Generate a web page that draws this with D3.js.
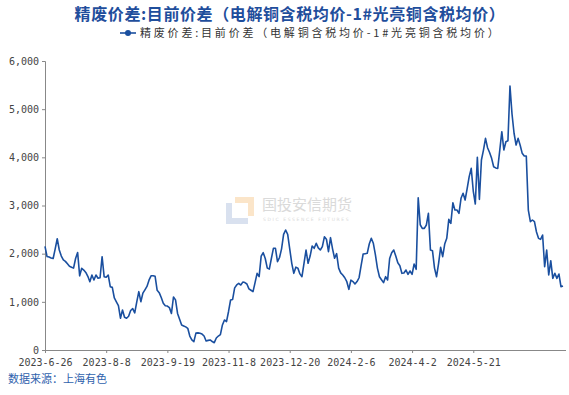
<!DOCTYPE html>
<html lang="zh">
<head>
<meta charset="UTF-8">
<title>精废价差</title>
<script src="https://d3js.org/d3.v7.min.js"></script>
<style>
    body { margin: 0; background: #fff; }
    svg { display: block; }
</style>
</head>
<body>
<div id="chart"></div>
<script>
// series: 精废价差（元/吨），按交易日排列
const spread = [
    2150, 1940, 1930, 1910, 1900, 2100, 2310, 2076, 1950, 1870,
    1840, 1790, 1740, 1720, 1700, 1900, 2025, 1540, 1696, 1660,
    1610, 1530, 1418, 1557, 1453, 1557, 1490, 1500, 1937, 1522,
    1509, 1557, 1314, 1300, 1080, 1000, 920, 660, 830, 680,
    660, 700, 820, 860, 770, 1000, 1211, 1003, 1180, 1250,
    1320, 1450, 1540, 1540, 1530, 1240, 1190, 1090, 970, 920,
    913, 880, 760, 1100, 1040, 760, 640, 520, 500, 480,
    450, 290, 210, 173, 350, 355, 346, 330, 290, 187,
    200, 208, 175, 152, 250, 290, 320, 520, 623, 590,
    800, 1038, 1050, 1290, 1350, 1384, 1349, 1410, 1400, 1370,
    1270, 1240, 1211, 1400, 1592, 1522, 1950, 2020, 1900, 1700,
    1680, 1900, 2111, 2111, 1833, 1920, 2100, 2400, 2491, 2400,
    2100, 1800, 1592, 1720, 1700, 1580, 1522, 1800, 2076, 1800,
    1950, 2159, 2111, 2215, 2120, 2076, 2145, 2350, 2300, 2041,
    2332, 2100, 1904, 2000, 1700, 1600, 1557, 1500, 1418, 1260,
    1450, 1420, 1370, 1420, 1500, 1750, 1993, 2000, 2007, 2200,
    2318, 2215, 1980, 1700, 1522, 1460, 1398, 1522, 1453, 1900,
    2020, 2076, 1950, 1810, 1750, 1592, 1600, 1661, 1571, 1640,
    1571, 1785, 1675, 3162, 2600, 2526, 2526, 2595, 2837, 2076,
    2062, 1700, 1522, 1800, 2131, 1937, 2200, 2318, 2713, 2630,
    3058, 2906, 2906, 2837, 3149, 3253, 3114, 3350, 3600, 3771,
    3300, 3031, 4000, 3128, 3944, 4150, 4394, 4200, 4100, 3979,
    3805, 3780, 3771, 4150, 4532, 4152, 4324, 4345, 5480, 4900,
    4500, 4256, 4394, 4250, 4083, 4027, 4027, 2906, 2664, 2699,
    2664, 2450, 2318, 2297, 2387, 1729, 2076, 1557, 1854, 1488,
    1592, 1488, 1578, 1314, 1329
];

// x-axis labels, one every 30 trading days starting at the first point
const tickLabels = ["2023-6-26", "2023-8-8", "2023-9-19", "2023-11-8",
                    "2023-12-20", "2024-2-6", "2024-4-2", "2024-5-21"];
const tickStep = 30;
const yTicks = [0, 1000, 2000, 3000, 4000, 5000, 6000];

const titleText = "精废价差:目前价差（电解铜含税均价-1#光亮铜含税均价）";
const seriesName = "精废价差:目前价差（电解铜含税均价-1#光亮铜含税均价）";
const sourceText = "数据来源：上海有色";

const width = 569, height = 395;
const margin = { top: 61, right: 3, bottom: 45, left: 45 };
const blue = "#1a4f9f";

const svg = d3.select("#chart").append("svg")
    .attr("width", width)
    .attr("height", height);

const x = d3.scaleLinear()
    .domain([0, spread.length - 1])
    .range([margin.left, 563]);

const y = d3.scaleLinear()
    .domain([0, 6000])
    .range([height - margin.bottom, margin.top]);

// watermark
const wm = svg.append("g").attr("opacity", 0.9);
wm.append("path")
    .attr("d", "M226,203 H232 V218 H248 V224 H226 Z")
    .attr("fill", "#d5deee");
wm.append("path")
    .attr("d", "M235,197 H254 V216 H248 V203 H235 Z")
    .attr("fill", "#fbe3c4");
wm.append("text")
    .attr("x", 262).attr("y", 210)
    .attr("font-family", "Noto Sans CJK SC")
    .attr("font-size", 15)
    .attr("fill", "#d6d6d6")
    .text("国投安信期货");
wm.append("text")
    .attr("x", 263).attr("y", 221)
    .attr("font-family", "DejaVu Sans")
    .attr("font-size", 4.5)
    .attr("letter-spacing", 1.6)
    .attr("fill", "#d6d6d6")
    .text("SDIC ESSENCE FUTURES");

// y axis
const yAxis = svg.append("g")
    .attr("transform", `translate(${margin.left},0)`)
    .call(d3.axisLeft(y).tickValues(yTicks).tickSize(3).tickFormat(d3.format(",")));
yAxis.select(".domain").attr("stroke", "#888");
yAxis.selectAll(".tick line").attr("stroke", "#888");
yAxis.selectAll("text")
    .attr("font-family", "DejaVu Sans Mono")
    .attr("font-size", 10)
    .attr("fill", "#444")
    .attr("x", -6);

// x axis
const xAxis = svg.append("g")
    .attr("transform", `translate(0,${height - margin.bottom})`)
    .call(d3.axisBottom(x)
        .tickValues(tickLabels.map((d, i) => i * tickStep))
        .tickSize(3)
        .tickFormat((d, i) => tickLabels[i]));
xAxis.select(".domain").attr("d", `M${margin.left},0.5H566`).attr("stroke", "#888");
xAxis.selectAll(".tick line").attr("stroke", "#888");
xAxis.selectAll("text")
    .attr("font-family", "DejaVu Sans Mono")
    .attr("font-size", 10)
    .attr("fill", "#444")
    .attr("y", 9);

// series line
const line = d3.line()
    .x((d, i) => x(i))
    .y(d => y(d));

svg.append("path")
    .datum(spread)
    .attr("fill", "none")
    .attr("stroke", blue)
    .attr("stroke-width", 1.6)
    .attr("stroke-linejoin", "round")
    .attr("d", line);

// title
svg.append("text")
    .attr("x", 290).attr("y", 20)
    .attr("text-anchor", "middle")
    .attr("font-family", "Noto Sans CJK SC")
    .attr("font-weight", "bold")
    .attr("font-size", 16)
    .attr("letter-spacing", 0.6)
    .attr("fill", "#1f4e9c")
    .text(titleText);

// legend
const lg = svg.append("g").attr("transform", "translate(120,33)");
lg.append("line")
    .attr("x1", 0).attr("x2", 16)
    .attr("stroke", blue).attr("stroke-width", 1.6);
lg.append("circle")
    .attr("cx", 8).attr("r", 3)
    .attr("fill", blue);
lg.append("text")
    .attr("x", 20).attr("y", 4)
    .attr("font-family", "Noto Sans CJK SC")
    .attr("font-size", 11)
    .attr("letter-spacing", 2.8)
    .attr("fill", "#333")
    .text(seriesName);

// source note
svg.append("text")
    .attr("x", 8).attr("y", 383)
    .attr("font-family", "Noto Sans CJK SC")
    .attr("font-size", 11)
    .attr("fill", "#2f62ad")
    .text(sourceText);
</script>
</body>
</html>
